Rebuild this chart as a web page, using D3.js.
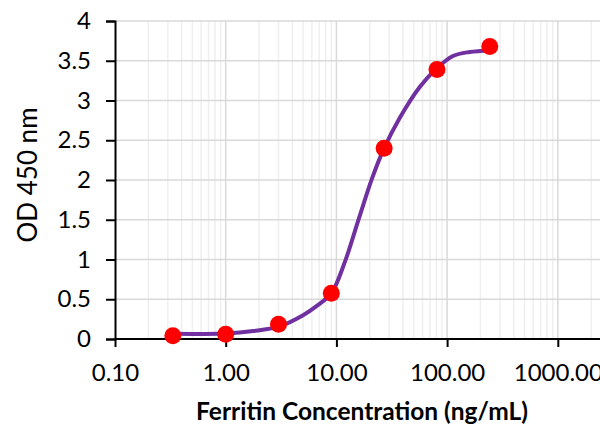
<!DOCTYPE html>
<html>
<head>
<meta charset="utf-8">
<script src="https://cdn.jsdelivr.net/npm/d3@7"></script>
<style>
  body { margin: 0; background: #fff; }
  svg { display: block; font-family: Lato, "Open Sans", sans-serif; }
</style>
</head>
<body>
<svg id="chart"></svg>
<script>
// Standard points (ng/mL vs OD 450)
const concentrations = [0.333, 1, 3, 9, 27, 81, 243];
const odValues = [0.04, 0.06, 0.185, 0.575, 2.40, 3.39, 3.68];

// Fitted curve
const curveX = [0.333, 1.0, 1.77, 3.0, 5.0, 6.7, 9, 12, 16, 21, 27, 37.3, 56.6, 80, 113, 160, 243];
const curveY = [0.065, 0.07, 0.10, 0.155, 0.30, 0.42, 0.575, 0.98, 1.52, 2.02, 2.40, 2.78, 3.17, 3.40, 3.56, 3.61, 3.63];

const yTicks = [0, 0.5, 1, 1.5, 2, 2.5, 3, 3.5, 4];
const xTicks = [0.1, 1, 10, 100, 1000];

const width = 600, height = 425;
const margin = { top: 21, left: 115 };
const decade = 110.7;
const plotBottom = 339;

const svg = d3.select("#chart").attr("width", width).attr("height", height);

// axis runs to 10000, the picture is cut at the right edge
const x = d3.scaleLog().domain([0.1, 10000]).range([margin.left, margin.left + 5 * decade]);
const y = d3.scaleLinear().domain([0, 4]).range([plotBottom, margin.top]);

const grid = svg.append("g");

// minor vertical grid
const minor = [];
[0.1, 1, 10, 100, 1000].forEach(d => { for (let k = 2; k <= 9; k++) minor.push(d * k); });
grid.selectAll("line.minor")
  .data(minor.filter(v => x(v) < width))
  .enter().append("line")
  .attr("x1", d => x(d)).attr("x2", d => x(d))
  .attr("y1", margin.top).attr("y2", plotBottom)
  .attr("stroke", "#efefef").attr("stroke-width", 1.5);

// major vertical grid
grid.selectAll("line.major")
  .data(xTicks.slice(1))
  .enter().append("line")
  .attr("x1", d => x(d)).attr("x2", d => x(d))
  .attr("y1", margin.top).attr("y2", plotBottom)
  .attr("stroke", "#d9d9d9").attr("stroke-width", 1.5);

// horizontal grid
grid.selectAll("line.h")
  .data(yTicks.slice(1))
  .enter().append("line")
  .attr("x1", margin.left).attr("x2", width)
  .attr("y1", d => y(d)).attr("y2", d => y(d))
  .attr("stroke", "#d9d9d9").attr("stroke-width", 1.5);

// axes
const yAxis = svg.append("g")
  .attr("transform", `translate(${margin.left},0)`)
  .call(d3.axisLeft(y).tickValues(yTicks).tickFormat(d3.format("")).tickSizeOuter(0).tickSize(9).tickPadding(15));
const xAxis = svg.append("g")
  .attr("transform", `translate(0,${plotBottom})`)
  .call(d3.axisBottom(x).tickValues(xTicks).tickFormat(d3.format(".2f")).tickSizeOuter(0).tickSize(8).tickPadding(17));

[yAxis, xAxis].forEach(a => {
  a.select(".domain").attr("stroke", "#000").attr("stroke-width", 2);
  a.selectAll(".tick line").attr("stroke", "#000").attr("stroke-width", 2);
  a.selectAll("text").attr("fill", "#000").attr("font-size", 24).attr("font-family", "Lato, sans-serif");
});
xAxis.select(".domain").attr("d", `M${margin.left},0H${width}`);

// fitted curve
const line = d3.line()
  .x((d, i) => x(curveX[i]))
  .y(d => y(d))
  .curve(d3.curveCatmullRom.alpha(0.5));
svg.append("path")
  .datum(curveY)
  .attr("d", line)
  .attr("fill", "none")
  .attr("stroke", "#7030a0")
  .attr("stroke-width", 4);

// points
svg.selectAll("circle")
  .data(concentrations)
  .enter().append("circle")
  .attr("cx", d => x(d))
  .attr("cy", (d, i) => y(odValues[i]))
  .attr("r", 8.5)
  .attr("fill", "#ff0000");

// titles
svg.append("text")
  .attr("x", 362).attr("y", 420)
  .attr("text-anchor", "middle")
  .attr("font-size", 24.5).attr("font-weight", "bold")
  .text("Ferritin Concentration (ng/mL)");

svg.append("text")
  .attr("transform", "translate(37,175) rotate(-90)")
  .attr("text-anchor", "middle")
  .attr("font-size", 26)
  .text("OD 450 nm");
</script>
</body>
</html>
